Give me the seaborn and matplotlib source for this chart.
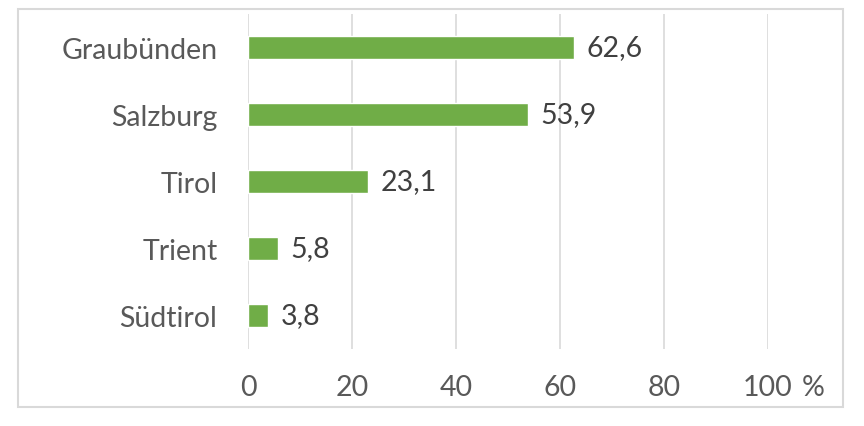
import matplotlib
matplotlib.use("Agg")
import matplotlib.pyplot as plt
import seaborn as sns
import pandas as pd
from matplotlib.patches import Rectangle

regions = ["Graubünden", "Salzburg", "Tirol", "Trient", "Südtirol"]
shares = [62.6, 53.9, 23.1, 5.8, 3.8]
ticks = [0, 20, 40, 60, 80, 100]

df = pd.DataFrame({"region": regions, "share": shares})

sns.set_style("white")
plt.rcParams["font.family"] = ["Lato", "DejaVu Sans"]

fig = plt.figure(figsize=(8.64, 4.27), dpi=100)
ax = fig.add_axes([248 / 864, 1 - 350 / 427, 520 / 864, 335 / 427])

sns.barplot(data=df, x="share", y="region", orient="h", color="#70AD47",
            saturation=1, width=0.35, ax=ax)

ax.set_xlim(0, 100)
ax.set_xticks(ticks)
ax.set_xticklabels([str(t) for t in ticks])
ax.grid(axis="x", color="#D9D9D9", linewidth=1.2)
ax.set_axisbelow(True)
for s in ax.spines.values():
    s.set_visible(False)
ax.tick_params(axis="x", length=0, pad=18, labelsize=20.5, labelcolor="#595959")
ax.tick_params(axis="y", length=0, pad=22, labelsize=20.5, labelcolor="#595959")
ax.set_xlabel("")
ax.set_ylabel("")

ax.bar_label(ax.containers[0], labels=[f"{v:.1f}".replace(".", ",") for v in shares],
             padding=9, fontsize=20.5, color="#404040")

# percent sign after the last tick
ax.annotate("%", xy=(100, 0), xycoords=("data", "axes fraction"),
            xytext=(24, -18), textcoords="offset points",
            ha="left", va="top", fontsize=20.5, color="#595959")

# frame around the chart
fig.patches.append(Rectangle((18 / 864, 1 - 408 / 427), 825 / 864, 398 / 427,
                             transform=fig.transFigure, fill=False,
                             edgecolor="#D9D9D9", linewidth=1.5))

fig.savefig("out.png", dpi=100)
